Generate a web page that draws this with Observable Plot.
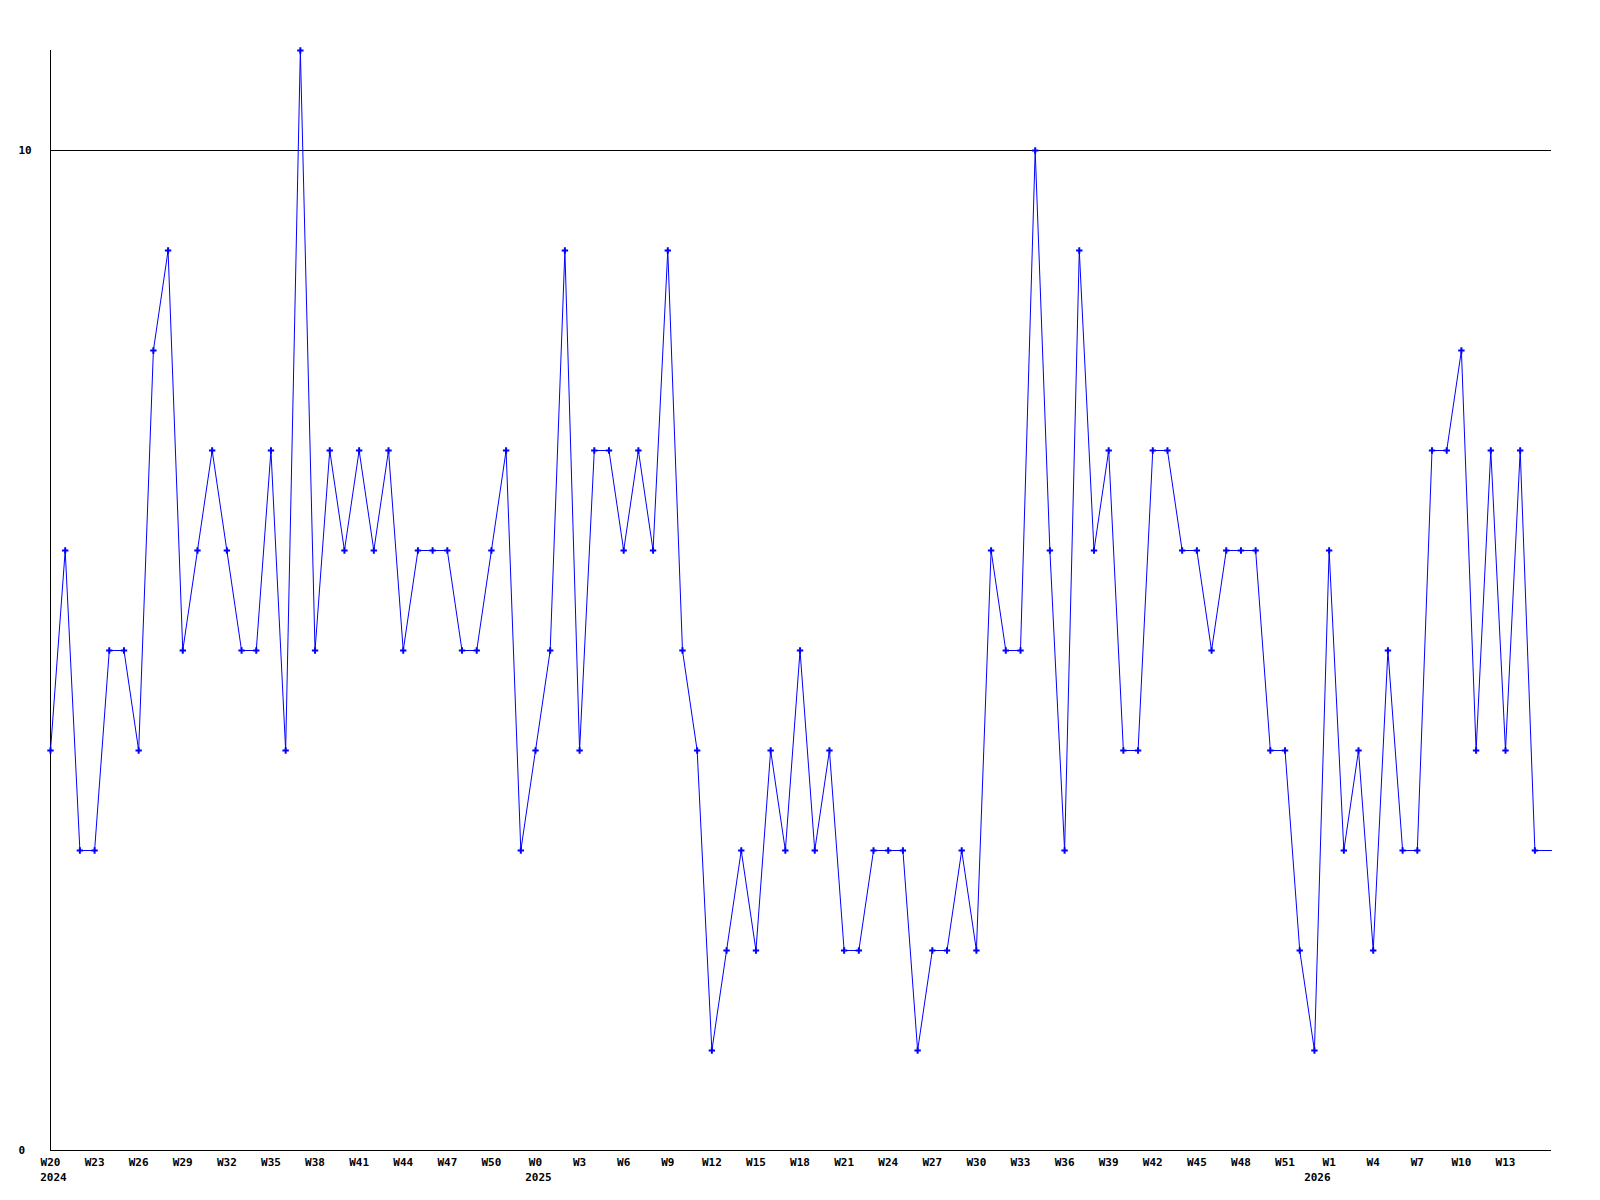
<!DOCTYPE html>
<html><head><meta charset="utf-8">
<script src="https://cdn.jsdelivr.net/npm/d3@7"></script>
<script src="https://cdn.jsdelivr.net/npm/@observablehq/plot@0.6"></script>
<style>body{margin:0;background:#fff}</style>
</head><body><div id="chart"></div>
<script>
// Weekly values, index 0 = W20 2024
const values = [
  4, 6, 3, 3, 5, 5, 4, 8, 9, 5,
  6, 7, 6, 5, 5, 7, 4, 11, 5, 7,
  6, 7, 6, 7, 5, 6, 6, 6, 5, 5,
  6, 7, 3, 4, 5, 9, 4, 7, 7, 6,
  7, 6, 9, 5, 4, 1, 2, 3, 2, 4,
  3, 5, 3, 4, 2, 2, 3, 3, 3, 1,
  2, 2, 3, 2, 6, 5, 5, 10, 6, 3,
  9, 6, 7, 4, 4, 7, 7, 6, 6, 5,
  6, 6, 6, 4, 4, 2, 1, 6, 3, 4,
  2, 5, 3, 3, 7, 7, 8, 4, 7, 4,
  7, 3
];
const tickWeeks = [0, 3, 6, 9, 12, 15, 18, 21, 24, 27, 30, 33, 36, 39, 42, 45, 48, 51, 54, 57, 60, 63, 66, 69, 72, 75, 78, 81, 84, 87, 90, 93, 96, 99];
const tickLabels = ["W20", "W23", "W26", "W29", "W32", "W35", "W38", "W41", "W44", "W47", "W50",
  "W0", "W3", "W6", "W9", "W12", "W15", "W18", "W21", "W24", "W27", "W30", "W33", "W36", "W39",
  "W42", "W45", "W48", "W51", "W1", "W4", "W7", "W10", "W13"];
const yearTicks = [0.2, 33.2, 86.2];
const yearLabels = ["2024", "2025", "2026"];
const yTicks = [0, 10];
const xMax = 102.13;

const data = values.map((v, i) => ({i, v}));
const last = data[data.length - 1];
const tail = [last, {i: xMax, v: last.v}];

const chart = Plot.plot({
  width: 1600,
  height: 1200,
  marginTop: 50,
  marginBottom: 50,
  marginLeft: 50,
  marginRight: 49,
  style: "font-family: 'DejaVu Sans Mono', monospace; font-size: 11px; font-weight: bold; background: white; color: black;",
  x: {domain: [0, xMax], label: null},
  y: {domain: [0, 11], label: null},
  marks: [
    Plot.ruleY([10], {stroke: "black", strokeWidth: 1}),
    Plot.ruleY([0], {stroke: "black", strokeWidth: 1}),
    Plot.ruleX([0], {stroke: "black", strokeWidth: 1}),
    Plot.line(data, {x: "i", y: "v", stroke: "#0000ff", strokeWidth: 1}),
    Plot.line(tail, {x: "i", y: "v", stroke: "#0000ff", strokeWidth: 1}),
    Plot.dot(data, {x: "i", y: "v", symbol: "plus", r: 2.2, stroke: "#0000ff", strokeWidth: 2}),
    Plot.axisY({ticks: yTicks, tickSize: 0, tickPadding: 32, textAnchor: "start", label: null, tickFormat: d => String(d)}),
    Plot.axisX({ticks: tickWeeks, tickSize: 0, tickPadding: 8, label: null,
      tickFormat: d => tickLabels[tickWeeks.indexOf(d)]}),
    Plot.axisX({ticks: yearTicks, tickSize: 0, tickPadding: 23, label: null,
      tickFormat: d => yearLabels[yearTicks.indexOf(d)]})
  ]
});
document.getElementById("chart").appendChild(chart);
</script>
</body></html>
